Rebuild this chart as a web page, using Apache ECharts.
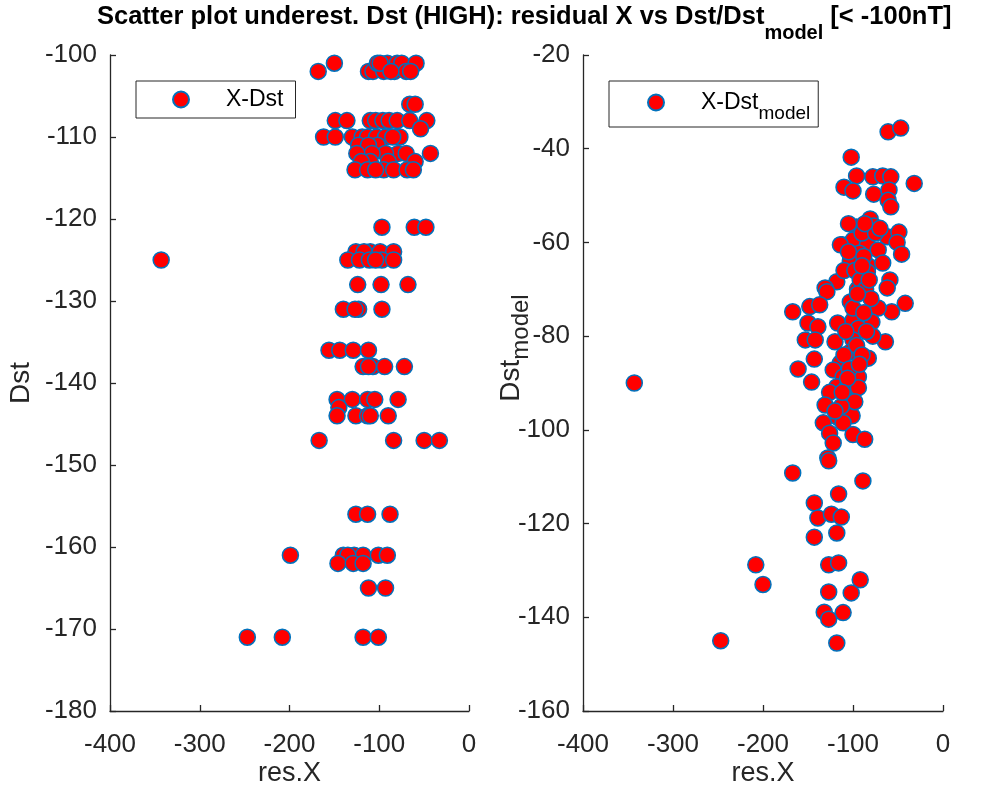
<!DOCTYPE html>
<html>
<head>
<meta charset="utf-8">
<script src="https://cdn.jsdelivr.net/npm/echarts@6/dist/echarts.min.js"></script>
<style>
  html, body { margin: 0; padding: 0; background: #fff; }
  #main { width: 998px; height: 786px; }
</style>
</head>
<body>
<div id="main"></div>
<script>
// left panel: residual X vs Dst
var resXLeft = [
  -168, -150, -112, -107, -102, -95, -91, -83, -80, -75, -70, -59, -99, -87, -65,
  -66, -60,
  -149, -136, -110, -104, -96, -89, -80, -66, -47,
  -162, -149, -130, -119, -113, -103, -93, -77, -54, -85,
  -102, -123, -112,
  -43, -79, -93, -108, -125, -70,
  -110, -60, -120, -90,
  -127, -113, -95, -84, -69, -62, -104,
  -97, -61, -48,
  -126, -110, -99, -84, -117,
  -343, -135, -122, -111, -97, -84, -104,
  -124, -98, -68,
  -140, -123, -97, -127,
  -156, -144, -129, -112,
  -118, -107, -94, -72, -112,
  -147, -130, -113, -105, -79,
  -145,
  -147, -126, -113, -110, -90,
  -167, -84, -50, -33,
  -126, -113, -88,
  -199, -140, -128, -118, -101, -91, -135,
  -146, -129, -118,
  -112, -93,
  -247, -208, -118, -101
];
var dstLeft = [
  -102, -101, -102, -102, -101, -102, -101, -102, -101, -101, -102, -101, -101, -102, -102,
  -106, -106,
  -108, -108, -108, -108, -108, -108, -108, -108, -108,
  -110, -110, -110, -110, -110, -110, -110, -110, -109, -110,
  -111, -111, -111,
  -112, -112, -112, -112, -112, -112,
  -113, -113, -113, -113,
  -114, -114, -114, -114, -114, -114, -114,
  -121, -121, -121,
  -124, -124, -124, -124, -124,
  -125, -125, -125, -125, -125, -125, -125,
  -128, -128, -128,
  -131, -131, -131, -131,
  -136, -136, -136, -136,
  -138, -138, -138, -138, -138,
  -142, -142, -142, -142, -142,
  -143,
  -144, -144, -144, -144, -144,
  -147, -147, -147, -147,
  -156, -156, -156,
  -161, -161, -161, -161, -161, -161, -161,
  -162, -162, -162,
  -165, -165,
  -171, -171, -171, -171
];

// right panel: residual X vs Dst_model
var resXRight = [
  -61, -47, -102, -96, -78, -67, -58, -32, -110, -100, -77, -60, -61, -58,
  -96, -81, -77, -62, -49, -112, -100, -84, -72, -51, -46, -93, -103, -83, -67, -114, -90, -88, -75,
  -118, -131, -129, -103, -84, -59, -62, -42, -57, -167, -148, -137, -72, -95, -110,
  -150, -139, -117, -100, -79, -94, -153, -142, -120, -100, -64, -78, -103, -83, -143, -161,
  -114, -122, -111, -94, -146, -118, -107, -94, -126, -107, -131, -117, -101, -133, -111,
  -126, -100, -87, -122, -128, -127,
  -105, -98, -92, -86, -80, -100, -88, -108, -96, -90, -110, -104, -98, -113, -120, -106,
  -85, -90, -105, -70, -87, -95, -82, -112, -93,
  -343, -167, -89, -116, -143, -139, -124, -113, -118, -143, -208, -127, -116, -200, -92,
  -127, -102, -132, -111, -127, -118, -247
];
var dstModel = [
  -36.4, -35.6, -41.8, -45.8, -46, -45.8, -46, -47.4, -48.2, -49, -49.7, -48.8, -51, -52.4,
  -56.7, -55, -56.5, -58.8, -57.8, -60.5, -59.5, -60.5, -61.6, -60, -62.5, -62.3, -64, -65, -64.4, -60.5, -58, -63, -58,
  -68.4, -69.7, -70.5, -72.7, -66.3, -68, -69.7, -73, -74.8, -74.8, -73.7, -73.3, -74, -70, -66,
  -77.2, -78, -77.2, -76.6, -77, -78.3, -80.8, -80.8, -81.2, -80.8, -81.2, -80, -83.4, -84.7, -84.9, -87,
  -85.7, -87.2, -88.7, -88.7, -89.8, -90.8, -91, -91, -92, -93.6, -94.7, -97.3, -97, -98.5, -98.5,
  -100.7, -101, -102, -102.8, -106, -106.6,
  -62, -66, -68, -70, -72, -74, -75, -79, -82, -84, -84, -87, -94, -95, -96, -89,
  -79, -65, -56, -57, -56, -71, -68, -92, -86,
  -90, -109.2, -110.9, -113.7, -115.6, -118.8, -118, -118.6, -122, -122.9, -128.8, -128.8, -128.4, -133, -132,
  -134.6, -134.8, -138.9, -139, -140.4, -145.5, -145
];

var xTicks = { min: -400, max: 0, interval: 100 };
var yLeftTicks = { min: -180, max: -100, interval: 10 };
var yRightTicks = { min: -160, max: -20, interval: 20 };

var FONT = "'Liberation Sans', Arial, sans-serif";
var INK = '#262626';

function pairs(xs, ys) {
    var out = [];
    for (var i = 0; i < xs.length; i++) {
        out.push([xs[i], ys[i]]);
    }
    return out;
}

function xAxisFor(idx) {
    return {
        gridIndex: idx,
        type: 'value',
        min: xTicks.min, max: xTicks.max, interval: xTicks.interval,
        name: 'res.X',
        nameLocation: 'middle',
        nameGap: 49,
        nameMoveOverlap: false,
        nameTextStyle: { fontFamily: FONT, fontSize: 27, color: INK },
        axisLine: { onZero: false, lineStyle: { color: INK, width: 1.3 } },
        axisTick: { inside: true, length: 6, lineStyle: { color: INK, width: 1.3 } },
        axisLabel: { fontFamily: FONT, fontSize: 26, color: INK, margin: 21 },
        splitLine: { show: false }
    };
}

function yAxisFor(idx, ticks, name, gap) {
    return {
        gridIndex: idx,
        type: 'value',
        min: ticks.min, max: ticks.max, interval: ticks.interval,
        name: name,
        nameLocation: 'middle',
        nameGap: gap,
        nameMoveOverlap: false,
        nameTextStyle: {
            fontFamily: FONT, fontSize: 28, color: INK,
            rich: {
                pad: { width: 70 },
                sub: { fontFamily: FONT, fontSize: 24, color: INK, padding: [20, 0, 0, 0] }
            }
        },
        axisLine: { onZero: false, lineStyle: { color: INK, width: 1.3 } },
        axisTick: { inside: true, length: 6, lineStyle: { color: INK, width: 1.3 } },
        axisLabel: { fontFamily: FONT, fontSize: 26, color: INK, margin: 13 },
        splitLine: { show: false }
    };
}

var markerStyle = { color: '#ff0000', borderColor: '#0072bd', borderWidth: 1.5, opacity: 1 };

var chart = echarts.init(document.getElementById('main'));
chart.setOption({
    animation: false,
    backgroundColor: '#ffffff',
    title: {
        text: 'Scatter plot underest. Dst (HIGH): residual X vs Dst/Dst{sub|model} [< -100nT]',
        left: 92,
        top: -14,
        textStyle: {
            fontFamily: FONT, fontSize: 25.5, fontWeight: 'bold', color: '#000',
            rich: { sub: { fontFamily: FONT, fontSize: 20, fontWeight: 'bold', color: '#000', padding: [32, 0, 0, 0] } }
        }
    },
    grid: [
        { left: 110, top: 55, width: 359, height: 656, outerBoundsMode: 'none' },
        { left: 583, top: 55, width: 360, height: 656, outerBoundsMode: 'none' }
    ],
    legend: [
        {
            data: ['X-Dst'], left: 136, top: 81, selectedMode: false,
            icon: 'circle', itemWidth: 16, itemHeight: 16,
            borderColor: INK, borderWidth: 1, borderRadius: 0,
            padding: [7, 12, 7, 36],
            formatter: function (name) { return '{g|}' + name; },
            textStyle: { fontFamily: FONT, fontSize: 23, color: '#000', rich: { g: { width: 32 } } }
        },
        {
            data: ['X-Dst model'], left: 609, top: 81, selectedMode: false,
            icon: 'circle', itemWidth: 16, itemHeight: 16,
            borderColor: INK, borderWidth: 1, borderRadius: 0,
            padding: [10, 8, 4, 38],
            formatter: function () { return '{g|}X-Dst{sub|model}'; },
            textStyle: {
                fontFamily: FONT, fontSize: 23, color: '#000',
                rich: { g: { width: 32 }, sub: { fontFamily: FONT, fontSize: 19, color: '#000', padding: [22, 0, 0, 0] } }
            }
        }
    ],
    xAxis: [xAxisFor(0), xAxisFor(1)],
    yAxis: [
        yAxisFor(0, yLeftTicks, 'Dst', 75),
        yAxisFor(1, yRightTicks, '{pad|}Dst{sub|model}', 50)
    ],
    series: [
        {
            name: 'X-Dst', type: 'scatter', xAxisIndex: 0, yAxisIndex: 0,
            symbol: 'circle', symbolSize: 16, itemStyle: markerStyle,
            data: pairs(resXLeft, dstLeft)
        },
        {
            name: 'X-Dst model', type: 'scatter', xAxisIndex: 1, yAxisIndex: 1,
            symbol: 'circle', symbolSize: 16, itemStyle: markerStyle,
            data: pairs(resXRight, dstModel)
        }
    ]
});
</script>
</body>
</html>
